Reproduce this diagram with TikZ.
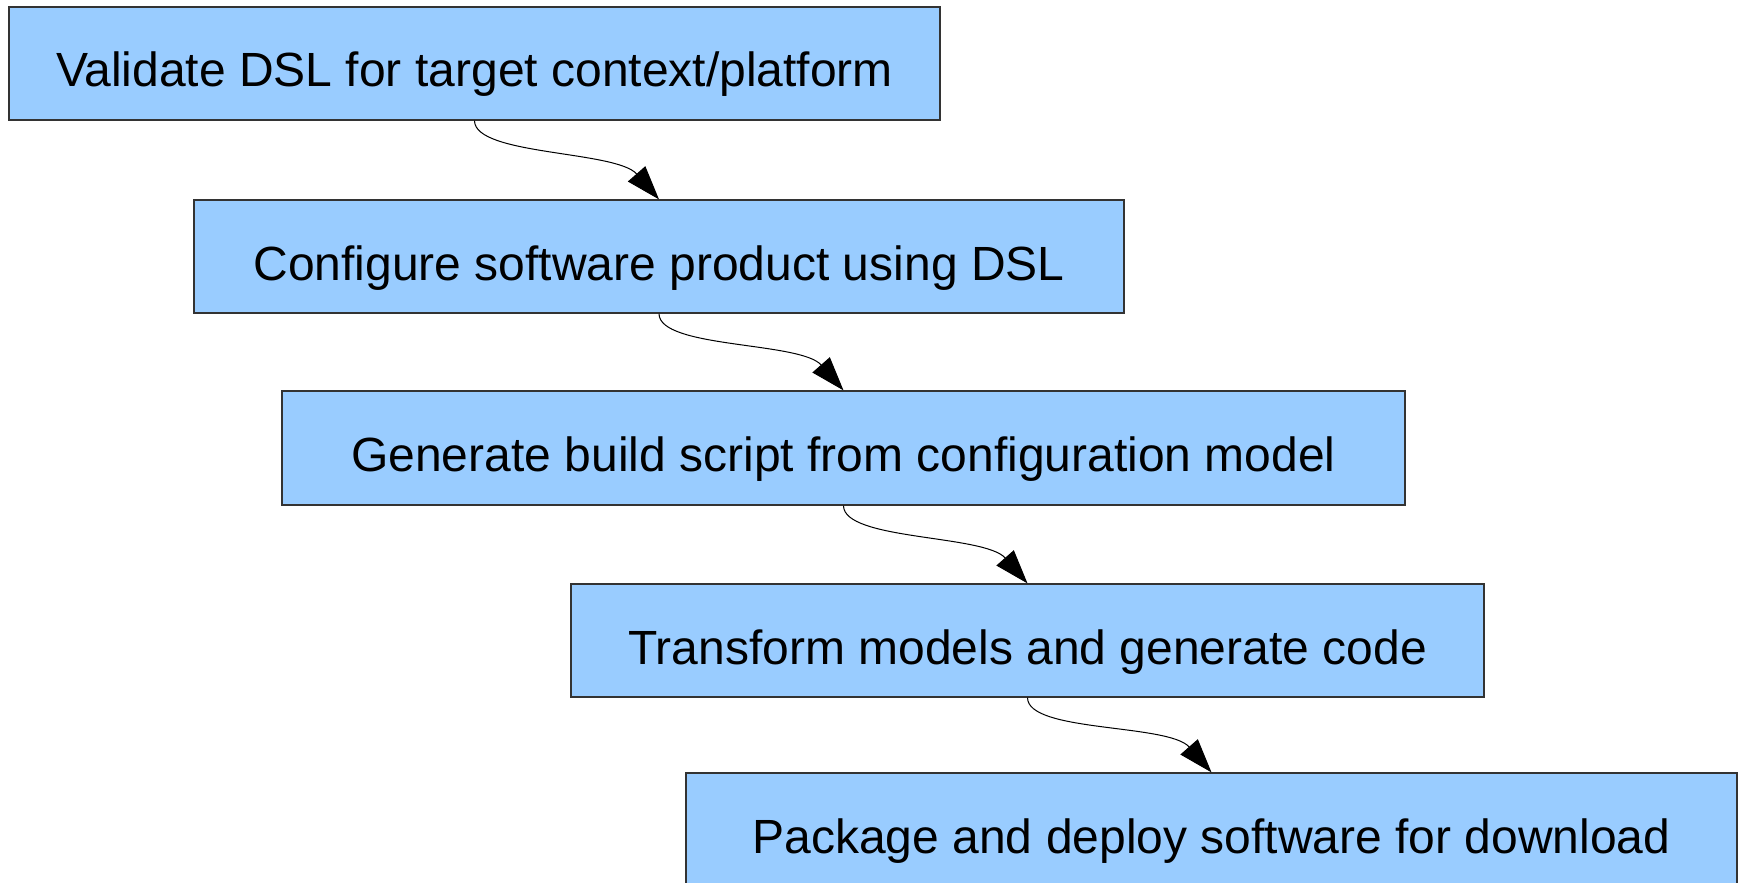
\documentclass[tikz,border=0pt]{standalone}
\usepackage{fontspec}
\setmainfont{Liberation Sans}
\usetikzlibrary{arrows.meta}
\definecolor{boxfill}{HTML}{99CCFF}
\begin{document}
\begin{tikzpicture}[x=1pt,y=-1pt,
  stage/.style={draw=black!80, line width=1.2pt, fill=boxfill, inner sep=0pt,
    text height=47pt, text depth=0pt,
    font=\fontsize{48}{58}\selectfont},
  flow/.style={line width=1pt, -{Triangle[length=34pt,width=23pt]}}]
  \useasboundingbox (0,0) rectangle (1738,883);
  \fill[white] (0,0) rectangle (1738,883);

  \node[stage, minimum width=931pt, minimum height=113pt] (s1) at (474.5,63.5)
    {Validate DSL for target context/platform};
  \node[stage, minimum width=930pt, minimum height=113pt] (s2) at (659,256.5)
    {Configure software product using DSL};
  \node[stage, minimum width=1123pt, minimum height=114pt] (s3) at (843.5,448)
    {Generate build script from configuration model};
  \node[stage, minimum width=913pt, minimum height=113pt] (s4) at (1027.5,640.5)
    {Transform models and generate code};
  \node[stage, minimum width=1051pt, minimum height=113pt] (s5) at (1211.5,829.5)
    {Package and deploy software for download};

  \foreach \a/\b in {s1/s2, s2/s3, s3/s4, s4/s5}
    \draw[flow] (\a.south) .. controls +(0,35) and +(-43,-49) .. (\b.north);
\end{tikzpicture}
\end{document}
